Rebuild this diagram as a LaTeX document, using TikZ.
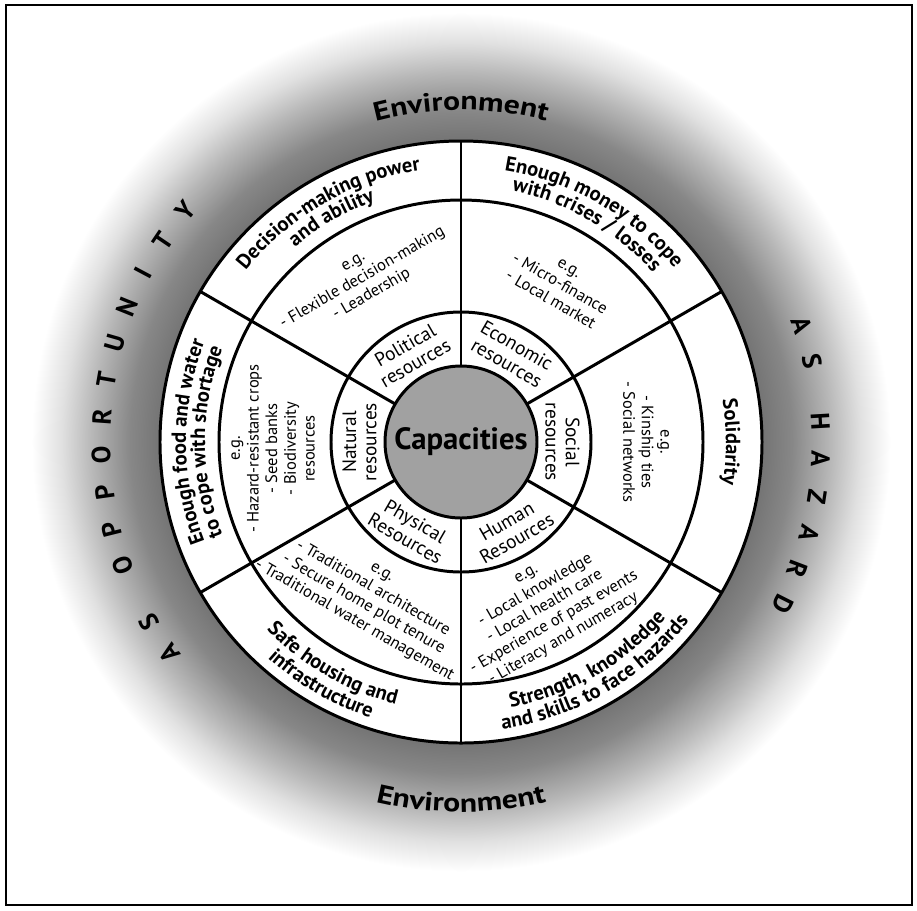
\documentclass[tikz,border=0pt]{standalone}
\usepackage{fontspec}
\setmainfont{PT Sans}
\setsansfont{PT Sans}
\newfontfamily\envfont{PT Sans}[FakeStretch=1.2]
\usetikzlibrary{decorations.text}

\pgfdeclareradialshading{envglow}{\pgfpoint{0bp}{0bp}}{%
  color(0bp)=(black!55); color(17bp)=(black!55); color(18.8bp)=(black!47);
  color(21bp)=(black!28); color(22.7bp)=(black!12); color(24.4bp)=(white);
  color(25bp)=(white); color(50bp)=(white)}

\begin{document}
\begin{tikzpicture}[
    font=\sffamily,
    wheel/.style={draw=black, line width=1.7pt},
    hub/.style={circle, draw=black, line width=1.7pt, fill=black!37, minimum size=3.04cm, inner sep=0pt},
    res/.style={align=center, inner sep=0pt, font=\fontsize{11}{11.5}\selectfont},
    eg/.style={align=center, inner sep=0pt, font=\fontsize{9.4}{10.6}\selectfont},
    spaced/.style={inner sep=0pt, font=\fontsize{15}{15}\bfseries\selectfont},
    headtext/.style={decorate, decoration={text along path, text align=center,
        text={|\fontsize{11.7}{11.7}\bfseries\selectfont|#1}}},
    envtext/.style={decorate, decoration={text along path, text align=center,
        text={|\envfont\fontsize{15}{15}\bfseries\selectfont|#1}}},
]

\useasboundingbox (-9.22,-9.36) rectangle (9.12,8.84);

% Glow
\shade[shading=envglow] (0,0) circle (8.8);

% Wheel
\fill[white] (0,0) circle (6.02);
\draw[wheel] (0,0) circle (6.02) (0,0) circle (4.84) (0,0) circle (2.6);
\foreach \a in {30,90,...,330}
    \draw[wheel] (\a:1.52) -- (\a:6.02);
\node[hub] (hub) at (0,0) {\fontsize{17.5}{18}\bfseries\selectfont Capacities};

% Resources
\node[res, rotate=30] (political) at (120:2.03) {Political\\resources};
\node[res, rotate=-30] (economic) at (60:2.03) {Economic\\resources};
\node[res, rotate=-90] (social) at (0:2.03) {Social\\resources};
\node[res, rotate=30] (human) at (300:2.03) {Human\\Resources};
\node[res, rotate=-30] (physical) at (240:2.03) {Physical\\Resources};
\node[res, rotate=90] (natural) at (180:2.03) {Natural\\resources};

% Examples
\node[eg, rotate=30] (egpol) at (121:3.8) {e.g.\\- Flexible decision-making\\- Leadership};
\node[eg, rotate=-30] (egeco) at (58:3.72) {e.g.\\- Micro-finance\\- Local market};
\node[eg, rotate=-90] (egsoc) at (0:3.7) {e.g.\\- Kinship ties\\- Social networks};
\node[eg, rotate=30] (eghum) at (297:3.72) {e.g.\\- Local knowledge\\- Local health care\\- Experience of past events\\- Literacy and numeracy};
\node[eg, rotate=-30] (egphy) at (239:3.63) {e.g.\\- Traditional architecture\\- Secure home plot tenure\\- Traditional water management};
\node[eg, rotate=90] (egnat) at (182:3.76) {e.g.\\- Hazard-resistant crops\\- Seed banks\\- Biodiversity\\resources};

% Headings
\path[headtext={Decision-making power}] (150:5.5) arc[start angle=150, end angle=90, radius=5.5];
\path[headtext={and ability}] (150:5.12) arc[start angle=150, end angle=90, radius=5.12];
\path[headtext={Enough money to cope}] (90:5.5) arc[start angle=90, end angle=30, radius=5.5];
\path[headtext={with crises / losses}] (90:5.12) arc[start angle=90, end angle=30, radius=5.12];
\path[headtext={Solidarity}] (30:5.3) arc[start angle=30, end angle=-30, radius=5.3];
\path[headtext={Strength, knowledge}] (270:5.4) arc[start angle=270, end angle=330, radius=5.4];
\path[headtext={and skills to face hazards}] (270:5.8) arc[start angle=270, end angle=330, radius=5.8];
\path[headtext={Safe housing and}] (210:5.4) arc[start angle=210, end angle=270, radius=5.4];
\path[headtext={infrastructure}] (210:5.8) arc[start angle=210, end angle=270, radius=5.8];
\path[headtext={Enough food and water}] (210:5.5) arc[start angle=210, end angle=150, radius=5.5];
\path[headtext={to cope with shortage}] (210:5.12) arc[start angle=210, end angle=150, radius=5.12];

% Environment
\path[envtext={Environment}] (120:6.64) arc[start angle=120, end angle=60, radius=6.64];
\path[envtext={Environment}] (240:7.4) arc[start angle=240, end angle=300, radius=7.4];

% As opportunity / as hazard
\foreach \ch/\a [count=\i] in {A/216,S/210,O/200,P/194,P/188,O/182,R/176,T/170,U/164,N/158,I/152,T/146,Y/140}
    \node[spaced, rotate=\a-90] (opp-\i) at (\a:7.2) {\ch};
\foreach \ch/\a [count=\i] in {A/18.9,S/12.9,H/3.3,A/-2.7,Z/-8.7,A/-14.7,R/-20.7,D/-26.7}
    \node[spaced, rotate=\a-90] (haz-\i) at (\a:7.2) {\ch};

% Frame
\draw[line width=1pt] (-9.1,-9.26) rectangle (9.02,8.74);

\end{tikzpicture}
\end{document}
